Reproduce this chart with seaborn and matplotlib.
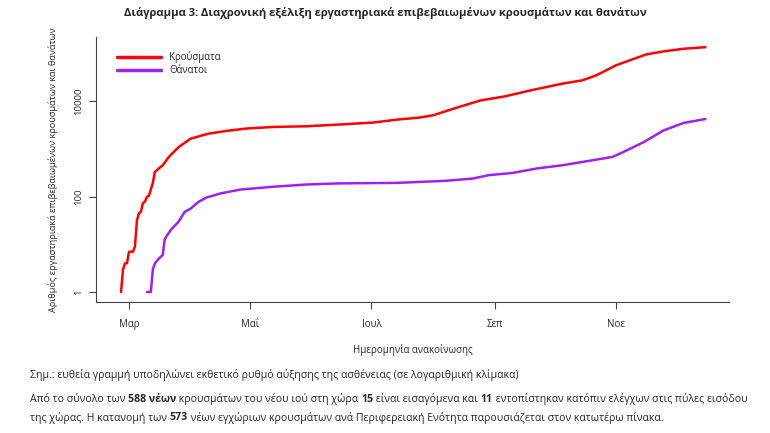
import pandas as pd
import numpy as np
import matplotlib
matplotlib.use('Agg')
import matplotlib.pyplot as plt
import matplotlib.dates as mdates
import seaborn as sns

# cumulative lab-confirmed cases
case_dates = ['2020-02-26', '2020-02-27', '2020-02-28', '2020-02-29', '2020-03-01', '2020-03-03',
              '2020-03-04', '2020-03-05', '2020-03-06', '2020-03-07', '2020-03-08', '2020-03-09',
              '2020-03-10', '2020-03-11', '2020-03-13', '2020-03-14', '2020-03-16', '2020-03-18',
              '2020-03-21', '2020-03-26', '2020-04-01', '2020-04-10', '2020-04-19', '2020-04-29',
              '2020-05-12', '2020-05-29', '2020-06-14', '2020-07-02', '2020-07-14', '2020-07-25',
              '2020-08-01', '2020-08-13', '2020-08-25', '2020-09-06', '2020-09-19', '2020-10-05',
              '2020-10-15', '2020-10-22', '2020-11-01', '2020-11-10', '2020-11-16', '2020-11-25',
              '2020-12-05', '2020-12-16']
case_values = [1, 3, 4, 4, 7, 7, 9, 32, 45, 48, 74, 78, 99, 104, 195, 330, 390, 456,
               680, 1100, 1650, 2100, 2400, 2690, 2900, 3000, 3250, 3600, 4150, 4560,
               5100, 7400, 10500, 12700, 17000, 23500, 27600, 35000, 57000, 78000, 96000, 112000,
               127000, 137000]

# cumulative deaths
death_dates = ['2020-03-10', '2020-03-12', '2020-03-13', '2020-03-14', '2020-03-16', '2020-03-18',
               '2020-03-19', '2020-03-22', '2020-03-26', '2020-03-29', '2020-04-01', '2020-04-05',
               '2020-04-09', '2020-04-16', '2020-04-26', '2020-05-12', '2020-05-29', '2020-06-14',
               '2020-07-14', '2020-08-07', '2020-08-21', '2020-08-29', '2020-09-10', '2020-09-22',
               '2020-10-05', '2020-10-15', '2020-10-30', '2020-11-03', '2020-11-15', '2020-11-25',
               '2020-12-05', '2020-12-16']
death_values = [1, 1, 3, 4, 5, 6, 13, 20, 30, 48, 56, 78, 96, 117, 141, 161, 180, 190,
                195, 215, 240, 283, 315, 390, 456, 535, 680, 800, 1400, 2460, 3530, 4260]

series_names = ['Κρούσματα', 'Θάνατοι']
series_colors = ['#ff0000', '#a020f0']

month_ticks = ['2020-03-01', '2020-05-01', '2020-07-01', '2020-09-01', '2020-11-01']
month_labels = ['Μαρ', 'Μαΐ', 'Ιουλ', 'Σεπ', 'Νοε']
y_ticks = [1, 100, 10000]

df = pd.concat([
    pd.DataFrame({'date': pd.to_datetime(case_dates), 'value': case_values, 'series': series_names[0]}),
    pd.DataFrame({'date': pd.to_datetime(death_dates), 'value': death_values, 'series': series_names[1]}),
])

sns.set_style('ticks')
plt.rcParams['font.family'] = ['Open Sans', 'DejaVu Sans']

fig = plt.figure(figsize=(7.7, 4.33), dpi=100)
ax = fig.add_axes([0.1247, 0.3025, 0.822, 0.612])

sns.lineplot(data=df, x='date', y='value', hue='series', palette=series_colors,
             linewidth=1.8, ax=ax, legend=True)

ax.set_yscale('log')
ax.set_ylim(10 ** -0.21, 10 ** 5.35)
ax.set_xlim(pd.Timestamp('2020-02-13 10:00'), pd.Timestamp('2020-12-27 20:00'))
ax.set_yticks(y_ticks)
ax.set_yticklabels([str(v) for v in y_ticks], rotation=90, va='center', fontsize=6.8)
ax.yaxis.set_minor_locator(matplotlib.ticker.NullLocator())
ax.set_xticks(pd.to_datetime(month_ticks))
ax.set_xticklabels(month_labels, fontsize=7)
ax.tick_params(axis='both', length=5, width=0.8, color='#444444', pad=4)
ax.tick_params(axis='x', pad=7)

for s in ['top', 'right']:
    ax.spines[s].set_visible(False)
for s in ['left', 'bottom']:
    ax.spines[s].set_color('#444444')
    ax.spines[s].set_linewidth(0.8)

ax.set_xlabel('Ημερομηνία ανακοίνωσης', fontsize=7, labelpad=10)
ax.set_ylabel('Αριθμός εργαστηριακά επιβεβαιωμένων κρουσμάτων και θανάτων', fontsize=6.6, labelpad=12)

leg = ax.legend(loc='upper left', bbox_to_anchor=(0.02, 0.98), frameon=False, fontsize=6.9,
                handlelength=4.6, handletextpad=0.8, labelspacing=0.25)
for line in leg.get_lines():
    line.set_linewidth(2.5)

fig.text(0.5, 0.97, 'Διάγραμμα 3: Διαχρονική εξέλιξη εργαστηριακά επιβεβαιωμένων κρουσμάτων και θανάτων',
         ha='center', va='center', fontsize=8.1, fontweight='bold')

# footer text with bold pieces
renderer = fig.canvas.get_renderer()


def rich_line(x_px, y_px, parts, size=7.55):
    x = x_px
    for txt, bold in parts:
        t = fig.text(x / 770, 1 - y_px / 433, txt, ha='left', va='center', fontsize=size,
                     fontweight='bold' if bold else 'normal')
        w = t.get_window_extent(renderer).width
        x += w


rich_line(30, 375, [('Σημ.: ευθεία γραμμή υποδηλώνει εκθετικό ρυθμό αύξησης της ασθένειας (σε λογαριθμική κλίμακα)', False)])
rich_line(30, 399, [('Από το σύνολο των ', False), ('588 νέων', True),
                    (' κρουσμάτων του νέου ιού στη χώρα ', False), ('15', True),
                    (' είναι εισαγόμενα και ', False), ('11', True),
                    (' εντοπίστηκαν κατόπιν ελέγχων στις πύλες εισόδου', False)])
rich_line(30, 418, [('της χώρας. Η κατανομή των ', False), ('573', True),
                    (' νέων εγχώριων κρουσμάτων ανά Περιφερειακή Ενότητα παρουσιάζεται στον κατωτέρω πίνακα.', False)])

fig.savefig('out.png', dpi=100)
